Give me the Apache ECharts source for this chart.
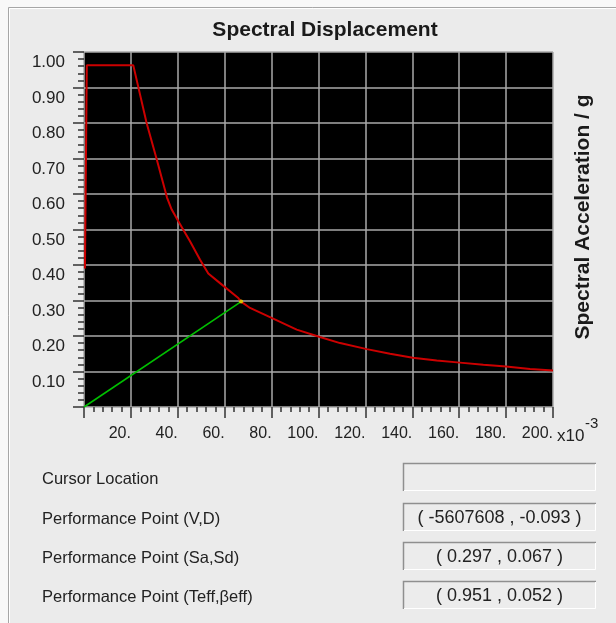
<!DOCTYPE html>
<html>
<head>
<meta charset="utf-8">
<script src="https://cdn.jsdelivr.net/npm/echarts@6/dist/echarts.min.js"></script>
<style>
  html, body { margin: 0; padding: 0; background: #f8f8f8; }
  #chart { width: 616px; height: 623px; }
</style>
</head>
<body>
<div id="chart"></div>
<script>
// Demand spectrum: spectral displacement (x10^-3) vs spectral acceleration (g)
const demandSd = [0.4, 0.8, 1.2, 21.0, 26.7, 31.0, 35.4, 37.4, 40.6, 45.2, 49.5, 53.0, 58.0, 65.8, 67.0, 70.8, 79.3, 90.7, 100.6, 109.2, 120.6, 130.5, 140.2, 150.4, 160.3, 170.3, 180.0, 190.2, 200.0];
const demandSa = [0.39, 0.68, 0.963, 0.963, 0.80, 0.698, 0.59, 0.556, 0.519, 0.467, 0.415, 0.376, 0.349, 0.307, 0.297, 0.279, 0.253, 0.218, 0.197, 0.180, 0.163, 0.150, 0.139, 0.131, 0.125, 0.119, 0.114, 0.107, 0.103];

// Capacity curve up to the performance point
const capacitySd = [0, 67];
const capacitySa = [0, 0.297];
const perfPoint = [67, 0.297];

// Read-out fields under the plot
const fieldLabels = ['Cursor Location', 'Performance Point (V,D)', 'Performance Point (Sa,Sd)', 'Performance Point (Teff,\u03B2eff)'];
const fieldValues = ['', '( -5607608 , -0.093 )', '( 0.297 , 0.067 )', '( 0.951 , 0.052 )'];

const FONT = '"Liberation Sans", Arial, sans-serif';

function zip(xs, ys) { return xs.map((x, i) => [x, ys[i]]); }

const graphics = [];
// dialog frame
graphics.push({ type: 'rect', z: -100, shape: { x: 8.5, y: 7.5, width: 640, height: 640 },
  style: { fill: '#ebebeb', stroke: '#a6a6a6', lineWidth: 1 } });
graphics.push({ type: 'polyline', z: -99, shape: { points: [[9.5, 640], [9.5, 8.5], [640, 8.5]] },
  style: { stroke: '#ffffff', lineWidth: 1, fill: null } });

// titles
graphics.push({ type: 'text', x: 325, y: 30, style: { text: 'Spectral Displacement', font: 'bold 21px ' + FONT,
  fill: '#1a1a1a', align: 'center', verticalAlign: 'middle' } });
graphics.push({ type: 'text', x: 583, y: 217, rotation: Math.PI / 2, style: { text: 'Spectral Acceleration / g',
  font: 'bold 21px ' + FONT, fill: '#1a1a1a', align: 'center', verticalAlign: 'middle' } });
graphics.push({ type: 'text', x: 557, y: 436, style: { text: 'x10', font: '17px ' + FONT, fill: '#222',
  align: 'left', verticalAlign: 'middle' } });
graphics.push({ type: 'text', x: 585, y: 424, style: { text: '-3', font: '15px ' + FONT, fill: '#222',
  align: 'left', verticalAlign: 'middle' } });

// read-out rows
const rowTop = [463, 503, 542, 581];
fieldLabels.forEach((lab, i) => {
  const top = rowTop[i], h = 28, left = 403, w = 193;
  graphics.push({ type: 'text', x: 42, y: top + h / 2 + 2, style: { text: lab, font: '16.5px ' + FONT,
    fill: '#222', align: 'left', verticalAlign: 'middle' } });
  graphics.push({ type: 'rect', shape: { x: left, y: top, width: w, height: h }, style: { fill: '#ececec' } });
  graphics.push({ type: 'polyline', shape: { points: [[left + 0.5, top + h], [left + 0.5, top + 0.5], [left + w, top + 0.5]] },
    style: { stroke: '#8f8f8f', lineWidth: 1.5, fill: null } });
  graphics.push({ type: 'polyline', shape: { points: [[left + 1, top + h - 0.5], [left + w - 0.5, top + h - 0.5], [left + w - 0.5, top + 1]] },
    style: { stroke: '#ffffff', lineWidth: 1, fill: null } });
  graphics.push({ type: 'text', x: left + w / 2, y: top + h / 2 + 1, style: { text: fieldValues[i], font: '18px ' + FONT,
    fill: '#222', align: 'center', verticalAlign: 'middle' } });
});

const chart = echarts.init(document.getElementById('chart'), null, { renderer: 'canvas' });
chart.setOption({
  animation: false,
  backgroundColor: 'transparent',
  textStyle: { fontFamily: FONT },
  grid: { left: 84, top: 52, width: 469, height: 355, show: true, backgroundColor: '#000000', borderWidth: 0 },
  xAxis: {
    type: 'value', min: 0, max: 200, interval: 20, offset: 4,
    axisLine: { show: false },
    axisTick: { show: true, length: 11, lineStyle: { color: '#333', width: 1.5 } },
    minorTick: { show: true, splitNumber: 5, length: 5, lineStyle: { color: '#333', width: 1.5 } },
    splitLine: { show: true, lineStyle: { color: '#a8a8a8', width: 1.5 } },
    axisLabel: { showMinLabel: false, align: 'right', margin: 15, fontSize: 16, color: '#222',
      formatter: v => v + '.' }
  },
  yAxis: {
    type: 'value', min: 0, max: 1, interval: 0.1, offset: 3,
    axisLine: { show: false },
    axisTick: { show: true, length: 11, lineStyle: { color: '#333', width: 1.5 } },
    minorTick: { show: true, splitNumber: 5, length: 6, lineStyle: { color: '#333', width: 1.5 } },
    splitLine: { show: true, lineStyle: { color: '#a8a8a8', width: 1.5 } },
    axisLabel: { showMinLabel: false, margin: 16, fontSize: 17, color: '#222', verticalAlign: 'top',
      padding: [2, 0, 0, 0], formatter: v => v.toFixed(2) }
  },
  graphic: graphics,
  series: [
    { type: 'line', data: zip(demandSd, demandSa), showSymbol: false, symbol: 'none',
      lineStyle: { color: '#cc0000', width: 2 }, z: 3 },
    { type: 'line', data: zip(capacitySd, capacitySa), showSymbol: false, symbol: 'none',
      lineStyle: { color: '#00c000', width: 1.6 }, z: 2 },
    { type: 'scatter', data: [perfPoint], symbolSize: 4, itemStyle: { color: '#e8e800' }, z: 4 }
  ]
});
</script>
</body>
</html>
